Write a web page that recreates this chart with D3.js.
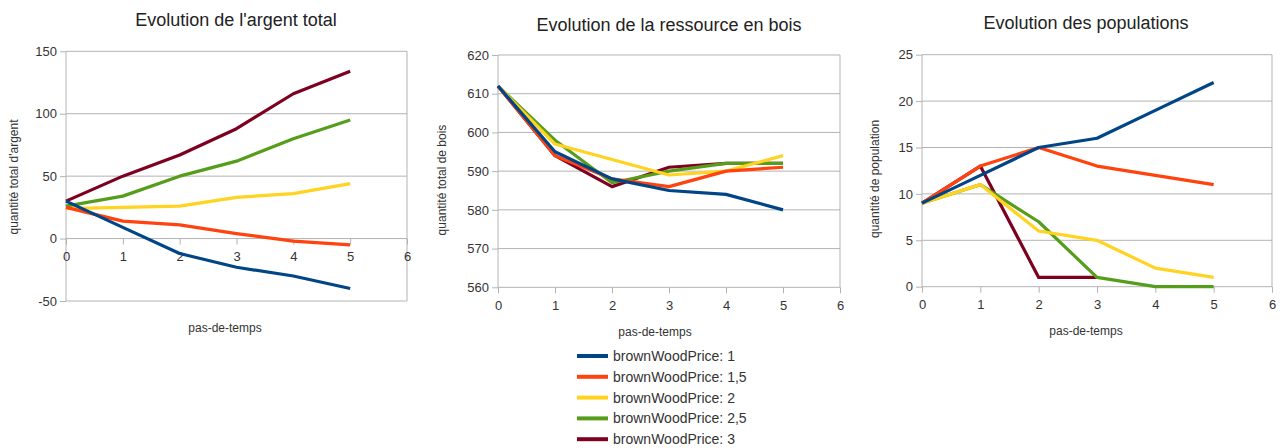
<!DOCTYPE html>
<html>
<head>
<meta charset="utf-8">
<script src="https://cdn.jsdelivr.net/npm/d3@7"></script>
<style>
  body { margin: 0; background: #fff; }
  text { font-family: "Liberation Sans", Arial, sans-serif; }
  .axis path { display: none; }
  .axis line { stroke: #b3b3b3; }
  .axis text { fill: #333; font-size: 13px; }
</style>
</head>
<body>
<svg id="svg-1"></svg>
<script>
// pas-de-temps
var steps = [0, 1, 2, 3, 4, 5];
var seriesNames = ["brownWoodPrice: 1", "brownWoodPrice: 1,5", "brownWoodPrice: 2",
                   "brownWoodPrice: 2,5", "brownWoodPrice: 3"];
var seriesColors = ["#004586", "#ff420e", "#ffd320", "#579d1c", "#7e0021"];

// argent total, one row per series
var argent = [
  [30, 9, -12, -23, -30, -40],
  [25, 14, 11, 4, -2, -5],
  [24, 25, 26, 33, 36, 44],
  [26, 34, 50, 62, 80, 95],
  [30, 50, 67, 88, 116, 134]
];
// ressource en bois
var bois = [
  [612, 595, 588, 585, 584, 580],
  [612, 594, 588, 586, 590, 591],
  [612, 597, 593, 589, 590, 594],
  [612, 598, 587, 590, 592, 592],
  [612, 594, 586, 591, 592, 592]
];
// populations (null = plus de point)
var populations = [
  [9, 12, 15, 16, 19, 22],
  [9, 13, 15, 13, 12, 11],
  [9, 11, 6, 5, 2, 1],
  [9, 11, 7, 1, 0, 0],
  [9, 13, 1, 1, null, null]
];

var xTicks = [0, 1, 2, 3, 4, 5, 6];
var argentTicks = [-50, 0, 50, 100, 150];
var boisTicks = [560, 570, 580, 590, 600, 610, 620];
var popTicks = [0, 5, 10, 15, 20, 25];

var W = 1282, H = 448;
var svg = d3.select("#svg-1").attr("width", W).attr("height", H);

var charts = [
  {title: "Evolution de l'argent total", yTitle: "quantité total d'argent",
   data: argent, yTicks: argentTicks, axisAt: 0,
   left: 66, right: 407, top: 51.3, bottom: 301,
   titleX: 236, titleY: 26, xtX: 225, xtY: 332, ytX: 18, ytY: 177},
  {title: "Evolution de la ressource en bois", yTitle: "quantité total de bois",
   data: bois, yTicks: boisTicks, axisAt: 560,
   left: 498, right: 840, top: 55, bottom: 287.3,
   titleX: 669, titleY: 31, xtX: 655, xtY: 336, ytX: 446, ytY: 180},
  {title: "Evolution des populations", yTitle: "quantité de population",
   data: populations, yTicks: popTicks, axisAt: 0,
   left: 922, right: 1272, top: 54.7, bottom: 286.7,
   titleX: 1086, titleY: 29, xtX: 1086, xtY: 335, ytX: 879, ytY: 179}
];

charts.forEach(function(c) {
  var x = d3.scaleLinear().domain([0, 6]).range([c.left, c.right]);
  var y = d3.scaleLinear().domain(d3.extent(c.yTicks)).range([c.bottom, c.top]);
  var g = svg.append("g");

  // grid
  g.selectAll(".grid")
    .data(c.yTicks)
    .enter().append("line")
    .attr("x1", c.left).attr("x2", c.right)
    .attr("y1", function(d) { return y(d); })
    .attr("y2", function(d) { return y(d); })
    .attr("stroke", "#b3b3b3");
  g.append("line")
    .attr("x1", c.left).attr("x2", c.left)
    .attr("y1", c.top).attr("y2", c.bottom)
    .attr("stroke", "#b3b3b3");
  g.append("line")
    .attr("x1", c.right).attr("x2", c.right)
    .attr("y1", c.top).attr("y2", c.bottom)
    .attr("stroke", "#b3b3b3");

  g.append("g")
    .attr("class", "axis")
    .attr("transform", "translate(" + c.left + ",0)")
    .call(d3.axisLeft(y).tickValues(c.yTicks).tickSize(6).tickPadding(3)
      .tickFormat(function(d) { return String(d); }));

  g.append("g")
    .attr("class", "axis")
    .attr("transform", "translate(0," + y(c.axisAt) + ")")
    .call(d3.axisBottom(x).tickValues(xTicks).tickSize(6).tickPadding(7)
      .tickFormat(function(d) { return String(d); }));

  var line = d3.line()
    .defined(function(d) { return d != null; })
    .x(function(d, i) { return x(steps[i]); })
    .y(function(d) { return y(d); });

  // series drawn last to first, so the first one sits on top
  for (var s = c.data.length - 1; s >= 0; s--) {
    g.append("path")
      .datum(c.data[s])
      .attr("d", line)
      .attr("fill", "none")
      .attr("stroke", seriesColors[s])
      .attr("stroke-width", 3.2)
      .attr("stroke-linejoin", "round");
  }

  g.append("text")
    .attr("x", c.titleX).attr("y", c.titleY)
    .attr("text-anchor", "middle")
    .attr("font-size", 18)
    .attr("fill", "#222")
    .text(c.title);

  g.append("text")
    .attr("x", c.xtX).attr("y", c.xtY)
    .attr("text-anchor", "middle")
    .attr("font-size", 12)
    .attr("fill", "#333")
    .text("pas-de-temps");

  g.append("text")
    .attr("transform", "translate(" + c.ytX + "," + c.ytY + ") rotate(-90)")
    .attr("text-anchor", "middle")
    .attr("font-size", 12)
    .attr("fill", "#333")
    .text(c.yTitle);
});

// LEGEND
var legend = svg.selectAll(".legend")
  .data(seriesNames)
  .enter().append("g")
  .attr("class", "legend")
  .attr("transform", function(d, i) { return "translate(577," + (356 + i * 20.8) + ")"; });

legend.append("line")
  .attr("x1", 0).attr("x2", 31)
  .attr("stroke", function(d, i) { return seriesColors[i]; })
  .attr("stroke-width", 4);

legend.append("text")
  .attr("x", 36).attr("y", 5)
  .attr("font-size", 14)
  .attr("fill", "#333")
  .text(function(d) { return d; });
</script>
</body>
</html>
